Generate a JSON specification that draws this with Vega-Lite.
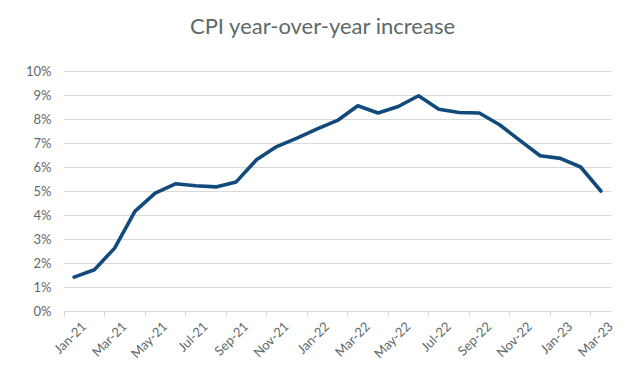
{
  "$schema": "https://vega.github.io/schema/vega-lite/v6.json",
  "autosize": "none",
  "width": 547,
  "height": 240,
  "padding": {"left": 64, "top": 71, "right": 29, "bottom": 78},
  "background": "white",
  "title": {
    "text": "CPI year-over-year increase",
    "font": "Lato",
    "fontSize": 22,
    "fontWeight": "normal",
    "color": "#5E6969",
    "anchor": "middle",
    "frame": "group",
    "dx": -15,
    "offset": 26
  },
  "config": {
    "view": {"stroke": null},
    "axis": {
      "labelFont": "Lato",
      "labelColor": "#5E6969",
      "labelFontSize": 13
    }
  },
  "data": {
    "values": [
      {"month": "Jan-21", "cpi": 1.41},
      {"month": "Feb-21", "cpi": 1.72},
      {"month": "Mar-21", "cpi": 2.62},
      {"month": "Apr-21", "cpi": 4.15},
      {"month": "May-21", "cpi": 4.91},
      {"month": "Jun-21", "cpi": 5.3},
      {"month": "Jul-21", "cpi": 5.22},
      {"month": "Aug-21", "cpi": 5.17},
      {"month": "Sep-21", "cpi": 5.38},
      {"month": "Oct-21", "cpi": 6.3},
      {"month": "Nov-21", "cpi": 6.85},
      {"month": "Dec-21", "cpi": 7.2},
      {"month": "Jan-22", "cpi": 7.59},
      {"month": "Feb-22", "cpi": 7.94},
      {"month": "Mar-22", "cpi": 8.55},
      {"month": "Apr-22", "cpi": 8.25},
      {"month": "May-22", "cpi": 8.52},
      {"month": "Jun-22", "cpi": 8.97},
      {"month": "Jul-22", "cpi": 8.41},
      {"month": "Aug-22", "cpi": 8.27},
      {"month": "Sep-22", "cpi": 8.25},
      {"month": "Oct-22", "cpi": 7.76},
      {"month": "Nov-22", "cpi": 7.11},
      {"month": "Dec-22", "cpi": 6.47},
      {"month": "Jan-23", "cpi": 6.36},
      {"month": "Feb-23", "cpi": 6.0},
      {"month": "Mar-23", "cpi": 5.0}
    ]
  },
  "mark": {"type": "line", "color": "#124A7B", "strokeWidth": 3.6, "strokeJoin": "round", "strokeCap": "round"},
  "encoding": {
    "x": {
      "field": "month",
      "type": "ordinal",
      "sort": null,
      "scale": {"type": "band", "paddingInner": 0, "paddingOuter": 0},
      "axis": {
        "title": null,
        "values": ["Jan-21", "Mar-21", "May-21", "Jul-21", "Sep-21", "Nov-21", "Jan-22", "Mar-22", "May-22", "Jul-22", "Sep-22", "Nov-22", "Jan-23", "Mar-23"],
        "bandPosition": 0,
        "labelOffset": 10.13,
        "labelAngle": -45,
        "labelAlign": "right",
        "labelBaseline": "middle",
        "labelPadding": 8,
        "domainColor": "#D9D9D9",
        "tickColor": "#D9D9D9",
        "tickSize": 5,
        "grid": false
      }
    },
    "y": {
      "field": "cpi",
      "type": "quantitative",
      "scale": {"domain": [0, 10], "nice": false, "zero": true},
      "axis": {
        "title": null,
        "values": [0, 1, 2, 3, 4, 5, 6, 7, 8, 9, 10],
        "labelExpr": "datum.value + '%'",
        "domain": false,
        "ticks": false,
        "labelPadding": 13,
        "gridColor": "#D9D9D9",
        "gridWidth": 1
      }
    }
  }
}
